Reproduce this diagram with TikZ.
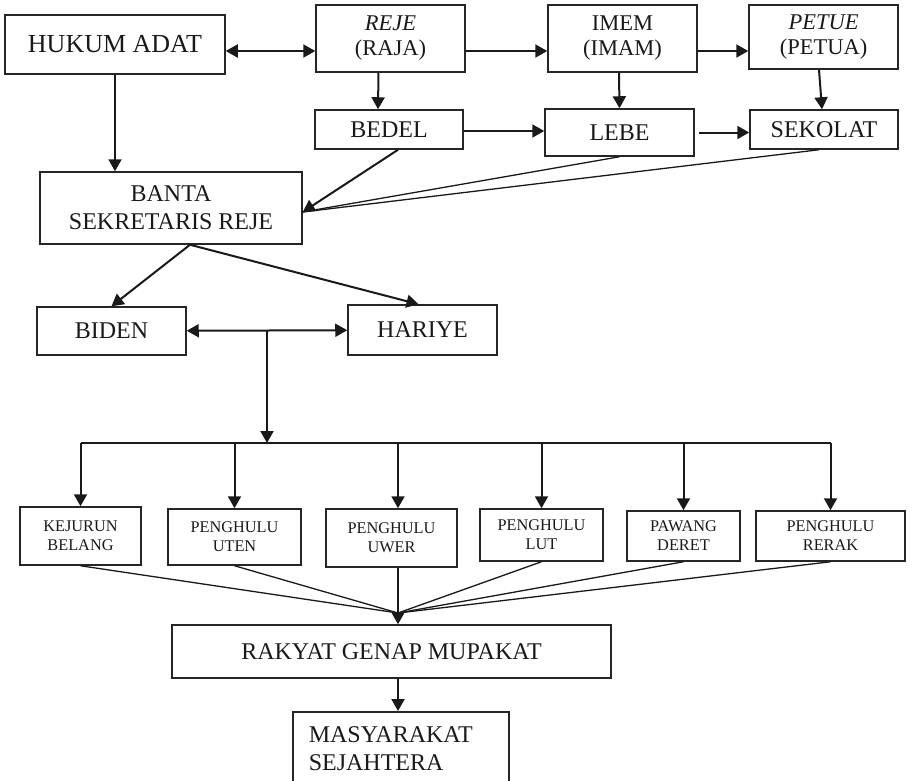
\documentclass[tikz,border=0pt]{standalone}
\usepackage{fontspec}
\setmainfont{Liberation Serif}
\usetikzlibrary{arrows.meta}

\tikzset{
  >={Triangle[length=12pt,width=13pt]},
  kotak/.style={draw=black!85, line width=1.5pt, inner sep=0pt, align=center,
    text=black!90, font=\fontsize{24}{28}\selectfont},
  atas/.style={kotak, font=\fontsize{22.5}{25}\selectfont},
  kecil/.style={kotak, font=\fontsize{16.3}{19}\selectfont},
  panah/.style={->, line width=2pt, draw=black!90},
  dua/.style={<->, line width=2pt, draw=black!90},
  garis/.style={line width=1.3pt, draw=black!90}
}

\begin{document}
\begin{tikzpicture}[x=1pt, y=-1pt]
    \clip (0,0) rectangle (914,780);

    \node[kotak, font=\fontsize{26}{30}\selectfont, minimum width=220pt, minimum height=59pt] (hukum) at (115,44.5) {HUKUM ADAT};
    \node[atas, minimum width=149pt, minimum height=67pt] (reje) at (390.5,38.5) {\itshape REJE\\(RAJA)};
    \node[atas, minimum width=149pt, minimum height=67pt] (imem) at (622.5,38.5) {IMEM\\(IMAM)};
    \node[atas, minimum width=149pt, minimum height=64pt] (petue) at (823.5,37) {\itshape PETUE\\(PETUA)};
    \node[kotak, minimum width=148pt, minimum height=39pt] (bedel) at (389,129.5) {BEDEL};
    \node[kotak, minimum width=149pt, minimum height=47pt] (lebe) at (619.5,132.5) {LEBE};
    \node[kotak, minimum width=148pt, minimum height=39pt] (sekolat) at (824,129.5) {SEKOLAT};
    \node[kotak, minimum width=262pt, minimum height=72pt] (banta) at (171,208) {BANTA\\SEKRETARIS REJE};
    \node[kotak, minimum width=149pt, minimum height=48pt] (biden) at (111.5,331) {BIDEN};
    \node[kotak, minimum width=149pt, minimum height=50pt] (hariye) at (422.5,330) {HARIYE};

    \node[kecil, minimum width=121pt, minimum height=58pt] (kejurun) at (80.5,536) {KEJURUN\\BELANG};
    \node[kecil, minimum width=133pt, minimum height=56pt] (uten) at (234.5,537) {PENGHULU\\UTEN};
    \node[kecil, minimum width=131pt, minimum height=58pt] (uwer) at (391.5,538) {PENGHULU\\UWER};
    \node[kecil, minimum width=123pt, minimum height=52pt] (lut) at (541.5,535) {PENGHULU\\LUT};
    \node[kecil, minimum width=113pt, minimum height=50pt] (pawang) at (683.5,536) {PAWANG\\DERET};
    \node[kecil, minimum width=149pt, minimum height=50pt] (rerak) at (830.5,536) {PENGHULU\\RERAK};

    \node[kotak, minimum width=439pt, minimum height=53pt] (rakyat) at (391.5,651.5) {RAKYAT GENAP MUPAKAT};
    \node[kotak, anchor=north west, align=left, text width=184pt, inner xsep=16pt, inner ysep=15pt] (masyarakat) at (292,711) {MASYARAKAT\\SEJAHTERA};

    \draw[dua] ([yshift=-6.5pt]hukum.east) -- ([yshift=-12.5pt]reje.west);
    \draw[panah] ([yshift=-12.5pt]reje.east) -- ([yshift=-12.5pt]imem.west);
    \draw[panah] ([yshift=-12.5pt]imem.east) -- ([yshift=-14pt]petue.west);
    \draw[panah] ([xshift=-12pt]reje.south) -- ([xshift=-11pt]bedel.north);
    \draw[panah] ([xshift=-3.5pt]imem.south) -- (lebe.north);
    \draw[panah] ([xshift=-4.5pt]petue.south) -- ([xshift=-2pt]sekolat.north);
    \draw[panah] ([yshift=-1.5pt]bedel.east) -- ([yshift=1.5pt]lebe.west);
    \draw[panah] ([xshift=4pt]lebe.east) -- ([yshift=-3pt]sekolat.west);
    \draw[panah] (hukum) -- (hukum |- banta.north);

    \coordinate (masuk) at ([yshift=-4pt]banta.east);
    \draw[panah] ([xshift=9pt]bedel.south) -- (masuk);
    \draw[garis] (lebe.south) -- (masuk);
    \draw[garis] ([xshift=-5pt]sekolat.south) -- (masuk);

    \coordinate (keluar) at ([xshift=19pt]banta.south);
    \draw[panah] (keluar) -- (biden.north);
    \draw[panah] (keluar) -- ([xshift=-4pt]hariye.north);
    \draw[dua] (biden) -- coordinate (pangkal) (hariye);

    \coordinate (cabang) at (266,443);
    \coordinate (temu) at (398,613);
    \draw[panah] (pangkal) -- (pangkal |- cabang);
    \draw[line width=2pt, draw=black!90] (kejurun.north |- cabang) -- (rerak.north |- cabang);
    \foreach \s in {kejurun,uten,lut,pawang,rerak}
        \draw[panah] (\s.north |- cabang) -- (\s.north);
    \draw[panah] (temu |- cabang) -- (temu |- uwer.north);

    \foreach \s in {kejurun,uten,lut,pawang,rerak}
        \draw[garis] (\s.south) -- (temu);
    \draw[panah] (temu |- uwer.south) -- (temu |- rakyat.north);
    \draw[panah] (temu |- rakyat.south) -- (temu |- masyarakat.north);
\end{tikzpicture}
\end{document}
